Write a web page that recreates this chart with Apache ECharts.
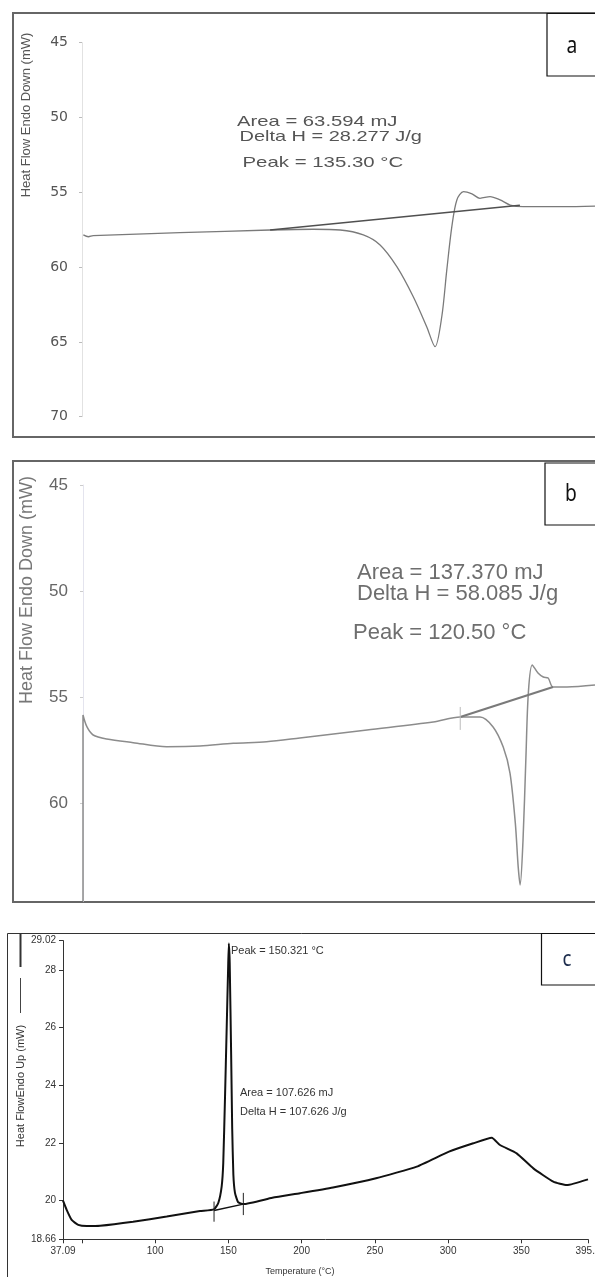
<!DOCTYPE html>
<html>
<head>
<meta charset="utf-8">
<script src="https://cdn.jsdelivr.net/npm/echarts@6/dist/echarts.min.js"></script>
<style>
html,body{margin:0;padding:0;background:#fff;}
#chart{width:595px;height:1277px;}
</style>
</head>
<body>
<div id="chart"></div>
<script>
// ---------- Panel a ----------
const aTemp = [30.4, 31.9, 33.3, 59.2, 86.1, 99.0, 107.0, 113.9, 118.9, 123.9, 128.8, 132.8, 135.3, 137.3, 138.8, 140.3, 141.8, 143.8, 146.3, 148.7, 151.7, 154.7, 157.7, 161.6, 173.5, 183.0];
const aHeat = [57.85, 57.97, 57.90, 57.70, 57.52, 57.47, 57.52, 57.85, 58.52, 59.97, 61.98, 63.98, 65.32, 63.32, 60.19, 57.30, 55.51, 54.96, 55.11, 55.40, 55.29, 55.51, 55.85, 55.96, 55.96, 55.92];
const aBaseTemp = [86.1, 160.6];
const aBaseHeat = [57.52, 55.87];
const aYTicks = [45, 50, 55, 60, 65, 70];
const aNotes = ['Area = 63.594 mJ', 'Delta H = 28.277 J/g', 'Peak = 135.30 °C'];

// ---------- Panel b ----------
const bTemp = [30.0, 30.0, 30.8, 32.1, 34.9, 40.4, 47.3, 54.2, 61.1, 68.0, 74.9, 88.8, 102.5, 108.1, 112.2, 114.9, 117.0, 118.4, 119.5, 120.1, 120.5, 121.1, 121.7, 122.2, 123.0, 124.2, 125.3, 126.3, 127.3, 130.2, 136.0];
const bHeat = [64.6, 55.83, 56.38, 56.77, 56.96, 57.13, 57.32, 57.29, 57.16, 57.09, 56.91, 56.53, 56.16, 55.92, 55.92, 56.39, 57.34, 58.56, 60.91, 62.98, 63.83, 61.71, 57.81, 54.79, 53.47, 53.85, 54.04, 54.09, 54.51, 54.51, 54.42];
const bBaseTemp = [108.1, 127.3];
const bBaseHeat = [55.92, 54.51];
const bLimitTemp = [108.1, 108.1];
const bLimitHeat = [55.45, 56.53];
const bYTicks = [45, 50, 55, 60];
const bNotes = ['Area = 137.370 mJ', 'Delta H = 58.085 J/g', 'Peak = 120.50 °C'];

// ---------- Panel c ----------
const cTemp = [37.09, 39.6, 43.0, 47.5, 53.3, 62.4, 84.9, 107.9, 130.6, 140.2, 143.1, 145.4, 146.5, 147.7, 148.8, 149.9, 150.32, 150.9, 151.9, 152.6, 153.4, 154.5, 156.6, 160.2, 180.0, 198.9, 221.4, 250.8, 278.6, 300.6, 317.2, 329.8, 335.4, 346.8, 358.2, 371.8, 381.0, 395.5];
const cHeat = [20.0, 19.68, 19.33, 19.16, 19.12, 19.13, 19.27, 19.45, 19.64, 19.70, 19.92, 20.49, 21.31, 23.60, 25.92, 28.24, 28.92, 28.24, 25.0, 22.5, 20.9, 20.27, 19.95, 19.88, 20.10, 20.26, 20.46, 20.78, 21.18, 21.70, 21.99, 22.18, 21.93, 21.64, 21.12, 20.66, 20.54, 20.74];
const cBaseTemp = [140.2, 160.2];
const cBaseHeat = [19.66, 19.88];
const cLimit1Temp = [140.2, 140.2];
const cLimit1Heat = [19.27, 19.97];
const cLimit2Temp = [160.2, 160.2];
const cLimit2Heat = [19.50, 20.27];
const cXTicks = [37.09, 100, 150, 200, 250, 300, 350, 395.5];
const cXTickMarks = [37.09, 50, 100, 150, 200, 250, 300, 350, 395.5];
const cYTicks = [18.66, 20, 22, 24, 26, 28, 29.02];
const cNotes = ['Peak = 150.321 °C', 'Area = 107.626 mJ', 'Delta H = 107.626 J/g'];

const zip = (xs, ys) => xs.map((x, i) => [x, ys[i]]);

const chart = echarts.init(document.getElementById('chart'), null, {renderer: 'canvas'});

function lineSeries(xi, xs, ys, color, width, smooth) {
  return {
    type: 'line', xAxisIndex: xi, yAxisIndex: xi, data: zip(xs, ys),
    showSymbol: false, smooth: smooth, silent: true, clip: false,
    lineStyle: {color: color, width: width}
  };
}

function txt(x, y, text, font, fill, extra) {
  return Object.assign({
    type: 'text', x: x, y: y, silent: true,
    style: {text: text, font: font, fill: fill, textAlign: 'left', textVerticalAlign: 'middle'}
  }, extra || {});
}

function centered(x, y, text, font, fill, scaleX) {
  return {type: 'text', x: x, y: y, silent: true, scaleX: scaleX,
    style: {text: text, font: font, fill: fill, textAlign: 'center', textVerticalAlign: 'middle'}};
}

const option = {
  backgroundColor: '#fff',
  animation: false,
  grid: [
    {left: 82, top: 42.7, width: 513, height: 374, outerBoundsMode: 'none', containLabel: false},
    {left: 83, top: 485, width: 512, height: 416.3, outerBoundsMode: 'none', containLabel: false},
    {left: 63, top: 940.6, width: 525, height: 298.7, outerBoundsMode: 'none', containLabel: false}
  ],
  xAxis: [
    {gridIndex: 0, type: 'value', min: 30, max: 183, show: false},
    {gridIndex: 1, type: 'value', min: 30, max: 136, show: false},
    {gridIndex: 2, type: 'value', min: 37.09, max: 395.5,
      axisLine: {show: true, onZero: false, lineStyle: {color: '#333', width: 1}},
      axisTick: {show: true, customValues: cXTickMarks, length: 4, lineStyle: {color: '#333'}},
      axisLabel: {customValues: cXTicks, fontSize: 10, color: '#333', margin: 7, fontFamily: 'Liberation Sans Narrow, Liberation Sans'},
      splitLine: {show: false}}
  ],
  yAxis: [
    {gridIndex: 0, type: 'value', inverse: true, min: 45, max: 70, interval: 5,
      axisLine: {show: true, onZero: false, lineStyle: {color: '#e2e2e2'}},
      axisTick: {show: true, customValues: aYTicks, length: 3, lineStyle: {color: '#bbb'}},
      axisLabel: {customValues: aYTicks, fontSize: 14, fontFamily: 'DejaVu Sans', color: '#555', margin: 14},
      splitLine: {show: false}},
    {gridIndex: 1, type: 'value', inverse: true, min: 45, max: 64.6,
      axisLine: {show: true, onZero: false, lineStyle: {color: '#e4e4ee'}},
      axisTick: {show: true, customValues: bYTicks, length: 3, lineStyle: {color: '#ccc'}},
      axisLabel: {customValues: bYTicks, fontSize: 17, fontFamily: 'Liberation Sans', color: '#666', margin: 15},
      splitLine: {show: false}},
    {gridIndex: 2, type: 'value', min: 18.66, max: 29.02,
      axisLine: {show: true, onZero: false, lineStyle: {color: '#333', width: 1}},
      axisTick: {show: true, customValues: cYTicks, length: 4, lineStyle: {color: '#333'}},
      axisLabel: {customValues: cYTicks, fontSize: 10, color: '#333', margin: 7, fontFamily: 'Liberation Sans Narrow, Liberation Sans'},
      splitLine: {show: false}}
  ],
  series: [
    lineSeries(0, aTemp, aHeat, '#7a7a7a', 1.3, 0.3),
    lineSeries(0, aBaseTemp, aBaseHeat, '#505050', 1.6, false),
    lineSeries(1, bTemp, bHeat, '#8c8c8c', 1.5, 0.3),
    lineSeries(1, bBaseTemp, bBaseHeat, '#7a7a7a', 2.2, false),
    lineSeries(1, bLimitTemp, bLimitHeat, '#bbb', 1, false),
    lineSeries(2, cTemp, cHeat, '#111', 2, 0.15),
    lineSeries(2, cBaseTemp, cBaseHeat, '#111', 1.5, false),
    lineSeries(2, cLimit1Temp, cLimit1Heat, '#222', 1, false),
    lineSeries(2, cLimit2Temp, cLimit2Heat, '#222', 1, false)
  ],
  graphic: {elements: [
    // frames
    {type: 'rect', silent: true, shape: {x: 13, y: 13, width: 600, height: 424}, style: {fill: 'none', stroke: '#666', lineWidth: 2}},
    {type: 'rect', silent: true, shape: {x: 13, y: 461, width: 600, height: 441}, style: {fill: 'none', stroke: '#666', lineWidth: 2}},
    {type: 'rect', silent: true, shape: {x: 7.5, y: 933.5, width: 600, height: 400}, style: {fill: 'none', stroke: '#333', lineWidth: 1}},
    // panel label boxes
    {type: 'rect', silent: true, shape: {x: 547, y: 13.5, width: 60, height: 62.5}, style: {fill: '#fff', stroke: '#111', lineWidth: 1.2}},
    {type: 'rect', silent: true, shape: {x: 545, y: 463, width: 60, height: 62}, style: {fill: '#fff', stroke: '#111', lineWidth: 1.2}},
    {type: 'rect', silent: true, shape: {x: 541.5, y: 933.5, width: 60, height: 51.5}, style: {fill: '#fff', stroke: '#111', lineWidth: 1.2}},
    centered(572, 46, 'a', '24px "Noto Sans"', '#111', 0.8),
    centered(571, 494, 'b', '24px "Noto Sans"', '#111', 0.8),
    centered(567, 960, 'c', '22px "Noto Sans"', '#1c2c4c', 0.85),
    // panel a annotations
    txt(237, 121.5, aNotes[0], '15px "Liberation Sans"', '#555', {scaleX: 1.35}),
    txt(239.5, 136.5, aNotes[1], '15px "Liberation Sans"', '#555', {scaleX: 1.33}),
    txt(242.5, 162.5, aNotes[2], '15px "Liberation Sans"', '#555', {scaleX: 1.36}),
    // panel b annotations
    txt(357, 573, bNotes[0], '22px "Liberation Sans"', '#6e6e6e'),
    txt(357, 594, bNotes[1], '22px "Liberation Sans"', '#6e6e6e'),
    txt(353, 633, bNotes[2], '22px "Liberation Sans"', '#6e6e6e'),
    // panel c annotations
    txt(231, 951, cNotes[0], '11px "Liberation Sans"', '#333'),
    txt(240, 1093, cNotes[1], '11px "Liberation Sans"', '#333'),
    txt(240, 1112, cNotes[2], '11px "Liberation Sans"', '#333'),
    // axis titles
    {type: 'text', silent: true, x: 26, y: 115, rotation: Math.PI / 2,
      style: {text: 'Heat Flow Endo Down (mW)', font: '13px "Liberation Sans"', fill: '#555', textAlign: 'center', textVerticalAlign: 'middle'}},
    {type: 'text', silent: true, x: 27.5, y: 590, rotation: Math.PI / 2,
      style: {text: 'Heat Flow Endo Down (mW)', font: '18px "Liberation Sans"', fill: '#777', textAlign: 'center', textVerticalAlign: 'middle'}},
    {type: 'text', silent: true, x: 20.5, y: 1086, rotation: Math.PI / 2,
      style: {text: 'Heat FlowEndo Up (mW)', font: '11px "Liberation Sans"', fill: '#333', textAlign: 'center', textVerticalAlign: 'middle'}},
    {type: 'text', silent: true, x: 300, y: 1272,
      style: {text: 'Temperature (°C)', font: '9px "Liberation Sans"', fill: '#333', textAlign: 'center', textVerticalAlign: 'middle'}},
    // legend swatch lines beside panel c y title
    {type: 'line', silent: true, shape: {x1: 20.5, y1: 933, x2: 20.5, y2: 967}, style: {stroke: '#333', lineWidth: 2}},
    {type: 'line', silent: true, shape: {x1: 20.5, y1: 978, x2: 20.5, y2: 1013}, style: {stroke: '#444', lineWidth: 1}}
  ]}
};
chart.setOption(option);
</script>
</body>
</html>
